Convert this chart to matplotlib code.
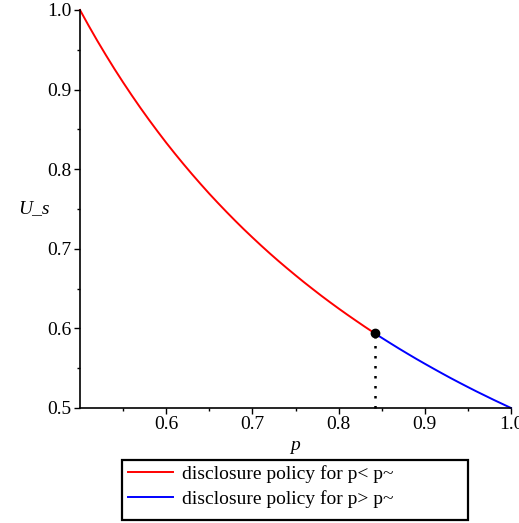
import matplotlib
matplotlib.use("Agg")
import matplotlib.pyplot as plt
from matplotlib.patches import Rectangle

plt.rcParams["font.family"] = ["Liberation Serif", "DejaVu Serif"]

# sender utility along p
p_vals = [0.50, 0.51, 0.52, 0.53, 0.54, 0.55, 0.56, 0.57, 0.58, 0.59,
          0.60, 0.61, 0.62, 0.63, 0.64, 0.65, 0.66, 0.67, 0.68, 0.69,
          0.70, 0.71, 0.72, 0.73, 0.74, 0.75, 0.76, 0.77, 0.78, 0.79,
          0.80, 0.81, 0.82, 0.83, 0.84, 0.842, 0.85, 0.86, 0.87, 0.88,
          0.89, 0.90, 0.91, 0.92, 0.93, 0.94, 0.95, 0.96, 0.97, 0.98,
          0.99, 1.00]
u_vals = [1.0000, 0.9804, 0.9615, 0.9434, 0.9259, 0.9091, 0.8929, 0.8772,
          0.8621, 0.8475, 0.8333, 0.8197, 0.8065, 0.7937, 0.7813, 0.7692,
          0.7576, 0.7463, 0.7353, 0.7246, 0.7143, 0.7042, 0.6944, 0.6849,
          0.6757, 0.6667, 0.6579, 0.6494, 0.6410, 0.6329, 0.6250, 0.6173,
          0.6098, 0.6024, 0.5952, 0.5938, 0.5882, 0.5814, 0.5747, 0.5682,
          0.5618, 0.5556, 0.5495, 0.5435, 0.5376, 0.5319, 0.5263, 0.5208,
          0.5155, 0.5102, 0.5051, 0.5000]

p_tilde = 0.842
u_tilde = 0.5938

xticks = [0.6, 0.7, 0.8, 0.9, 1.0]
yticks = [0.5, 0.6, 0.7, 0.8, 0.9, 1.0]
labels = ["disclosure policy for p< p~", "disclosure policy for p> p~"]

k = p_vals.index(p_tilde)
p_lo, u_lo = p_vals[:k + 1], u_vals[:k + 1]
p_hi, u_hi = p_vals[k:], u_vals[k:]

fig = plt.figure(figsize=(5.19, 5.23), dpi=100)
ax = fig.add_axes([80 / 519, 1 - 408 / 523, 431 / 519, 398 / 523])

l1, = ax.plot(p_lo, u_lo, color="red", lw=1.4, clip_on=False)
l2, = ax.plot(p_hi, u_hi, color="blue", lw=1.4, clip_on=False)
ax.plot([p_tilde, p_tilde], [0.5, u_tilde], color="black", lw=1.8,
        linestyle=(0, (1, 3.0)), clip_on=False)
ax.plot([p_tilde], [u_tilde], "o", color="black", ms=6, clip_on=False, zorder=5)

ax.set_xlim(0.5, 1.0)
ax.set_ylim(0.5, 1.0)
ax.set_xticks(xticks)
ax.set_yticks(yticks)
ax.set_xticks([0.55, 0.65, 0.75, 0.85, 0.95], minor=True)
ax.set_yticks([0.55, 0.65, 0.75, 0.85, 0.95], minor=True)
ax.set_xticklabels([f"{t:.1f}" for t in xticks])
ax.set_yticklabels([f"{t:.1f}" for t in yticks])
ax.tick_params(which="major", length=4, width=1, labelsize=14, pad=2)
ax.tick_params(which="minor", length=2.5, width=1)

for side in ("top", "right"):
    ax.spines[side].set_visible(False)
for side in ("left", "bottom"):
    ax.spines[side].set_linewidth(1.2)

ax.set_xlabel("p", fontsize=14, style="italic", labelpad=3)
ax.text(-0.07, 0.5, "U_s", transform=ax.transAxes, fontsize=14, style="italic",
        ha="right", va="center")

# legend box below the axes
fig.patches.append(Rectangle((122 / 519, 1 - 520 / 523), 346 / 519, 60 / 523,
                             transform=fig.transFigure, fill=False,
                             edgecolor="black", lw=1.6))
fig.legend([l1, l2], labels, loc="upper left",
           bbox_to_anchor=(126 / 519, 1 - 463 / 523), frameon=False,
           fontsize=14, handlelength=2.3, handletextpad=0.5,
           labelspacing=0.35, borderaxespad=0, borderpad=0.1)

fig.savefig("out.png", dpi=100)
